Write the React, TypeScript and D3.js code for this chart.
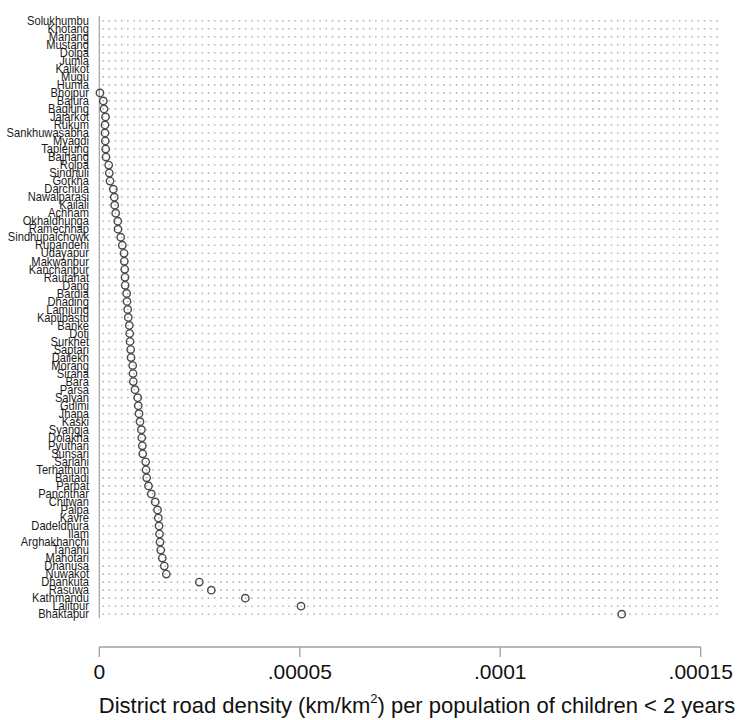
import React, { useEffect, useRef } from 'react';
import * as d3 from 'd3';

// districts, top to bottom
const districts = [
  'Solukhumbu', 'Khotang', 'Manang', 'Mustang', 'Dolpa', 'Jumla', 'Kalikot', 'Mugu', 'Humla',
  'Bhojpur', 'Bajura', 'Baglung', 'Jajarkot', 'Rukum', 'Sankhuwasabha', 'Myagdi', 'Taplejung',
  'Bajhang', 'Rolpa', 'Sindhuli', 'Gorkha', 'Darchula', 'Nawalparasi', 'Kailali', 'Achham',
  'Okhaldhunga', 'Ramechhap', 'Sindhupalchowk', 'Rupandehi', 'Udayapur', 'Makwanpur',
  'Kanchanpur', 'Rautahat', 'Dang', 'Bardia', 'Dhading', 'Lamjung', 'Kapilbastu', 'Banke',
  'Doti', 'Surkhet', 'Saptari', 'Dailekh', 'Morang', 'Siraha', 'Bara', 'Parsa', 'Salyan',
  'Gulmi', 'Jhapa', 'Kaski', 'Syangja', 'Dolakha', 'Pyuthan', 'Sunsari', 'Sarlahi',
  'Terhathum', 'Baitadi', 'Parbat', 'Panchthar', 'Chitwan', 'Palpa', 'Kavre', 'Dadeldhura',
  'Ilam', 'Arghakhanchi', 'Tanahu', 'Mahotari', 'Dhanusa', 'Nuwakot', 'Dhankuta', 'Rasuwa',
  'Kathmandu', 'Lalitpur', 'Bhaktapur'
];

// road density per child < 2 years, in units of 1e-6 (null = no value)
const densityE6: (number | null)[] = [
  null, null, null, null, null, null, null, null, null,
  0.17, 1.0, 1.17, 1.55, 1.42, 1.42, 1.5, 1.6,
  1.67, 2.34, 2.49, 2.67, 3.49, 3.74, 3.84, 4.09,
  4.61, 4.66, 5.34, 5.74, 6.16, 6.24,
  6.34, 6.41, 6.45, 6.83, 6.91, 7.08, 7.23, 7.48,
  7.58, 7.66, 7.83, 7.91, 8.33, 8.41, 8.48, 8.9, 9.58,
  9.73, 9.9, 10.15, 10.5, 10.58, 10.73, 10.83, 11.57,
  11.65, 11.82, 12.27, 12.97, 13.94, 14.52, 14.72, 14.9,
  15.02, 15.14, 15.32, 15.71, 16.21, 16.71, 24.94, 27.94,
  36.42, 50.31, 130.3
];

const xTicks = [0, 0.00005, 0.0001, 0.00015];
const xTickLabels = ['0', '.00005', '.0001', '.00015'];

const FONT = '"Liberation Sans", Arial, Helvetica, sans-serif';

export default function App() {
  const ref = useRef<SVGSVGElement>(null);

  useEffect(() => {
    const svg = d3.select(ref.current);
    svg.selectAll('*').remove();

    const x = d3.scaleLinear().domain([0, 0.00015]).range([99.3, 700.7]);
    const y = d3.scalePoint().domain(districts).range([20.7, 614.2]);
    const gridRight = 720;

    // dotted row lines
    svg.append('g')
      .selectAll('line')
      .data(districts)
      .enter()
      .append('line')
      .attr('x1', x(0) + 3)
      .attr('x2', gridRight)
      .attr('y1', d => y(d)!)
      .attr('y2', d => y(d)!)
      .attr('stroke', '#b8b8b8')
      .attr('stroke-width', 1.6)
      .attr('stroke-dasharray', '1.6,4.6');

    // left axis line
    svg.append('line')
      .attr('x1', x(0)).attr('x2', x(0))
      .attr('y1', 16).attr('y2', 618)
      .attr('stroke', '#a0a0a0')
      .attr('stroke-width', 1.2);

    // district labels
    svg.append('g')
      .selectAll('text')
      .data(districts)
      .enter()
      .append('text')
      .attr('transform', d => `translate(89,${y(d)! + 4.2}) scale(0.93,1)`)
      .attr('text-anchor', 'end')
      .attr('font-family', FONT)
      .attr('font-size', 12)
      .attr('fill', '#1a1a1a')
      .text(d => d);

    // markers
    const pts = districts
      .map((d, i) => ({ d, v: densityE6[i] }))
      .filter(p => p.v !== null);
    svg.append('g')
      .selectAll('circle')
      .data(pts)
      .enter()
      .append('circle')
      .attr('cx', p => x((p.v as number) * 1e-6))
      .attr('cy', p => y(p.d)!)
      .attr('r', 3.7)
      .attr('fill', 'none')
      .attr('stroke', '#4a4a4a')
      .attr('stroke-width', 1.4);

    // x axis
    const axisY = 647;
    const ax = svg.append('g');
    ax.append('line')
      .attr('x1', x(0)).attr('x2', x(0.00015))
      .attr('y1', axisY).attr('y2', axisY)
      .attr('stroke', '#a0a0a0')
      .attr('stroke-width', 1.3);
    ax.selectAll('.tick')
      .data(xTicks)
      .enter()
      .append('line')
      .attr('x1', d => x(d)).attr('x2', d => x(d))
      .attr('y1', axisY).attr('y2', axisY + 10)
      .attr('stroke', '#a0a0a0')
      .attr('stroke-width', 1.3);
    ax.selectAll('.lbl')
      .data(xTicks)
      .enter()
      .append('text')
      .attr('x', d => x(d))
      .attr('y', 678.5)
      .attr('text-anchor', 'middle')
      .attr('font-family', FONT)
      .attr('font-size', 21)
      .attr('fill', '#111')
      .text((d, i) => xTickLabels[i]);

    // axis title
    const t = svg.append('text')
      .attr('x', 417)
      .attr('y', 712.7)
      .attr('text-anchor', 'middle')
      .attr('font-family', FONT)
      .attr('font-size', 22)
      .attr('fill', '#111');
    t.append('tspan').text('District road density (km/km');
    t.append('tspan').attr('font-size', 13).attr('dy', -10).text('2');
    t.append('tspan').attr('dy', 10).text(') per population of children < 2 years');
  }, []);

  return (
    <svg
      ref={ref}
      width={741}
      height={720}
      style={{ position: 'absolute', left: 0, top: 0, background: '#fff' }}
    />
  );
}
